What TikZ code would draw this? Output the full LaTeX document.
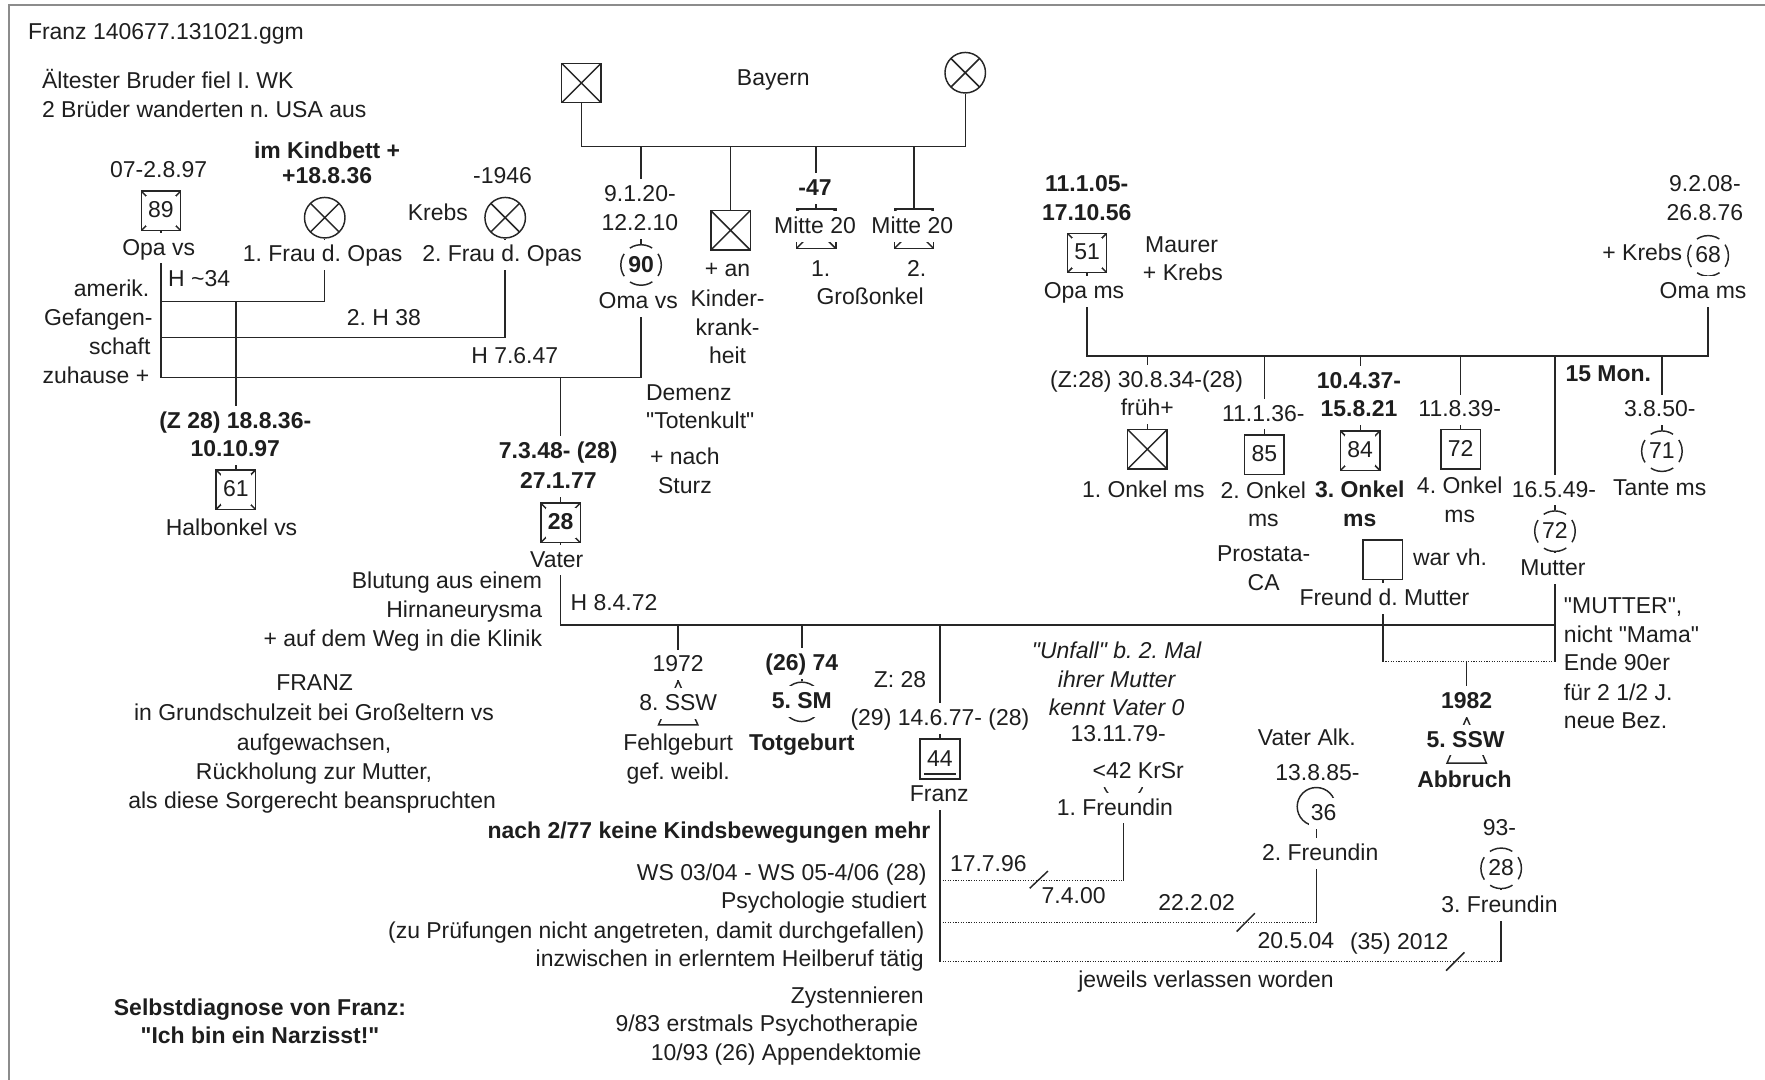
\documentclass[tikz,border=0pt]{standalone}
\usepackage{fontspec}
\setmainfont{Liberation Sans}
\usetikzlibrary{calc}
\pgfdeclarelayer{bg}
\pgfsetlayers{bg,main}
\definecolor{ln}{HTML}{262626}
\definecolor{txt}{HTML}{1E1E1E}
\definecolor{frm}{HTML}{8C8C8C}
\newcommand\fs{\fontsize{10.2pt}{12.9pt}\selectfont\frenchspacing}
\newcommand\qq{\textquotedbl}
\begin{document}
\begin{tikzpicture}[x=0.5pt,y=-0.5pt,
  lbl/.style={font=\fs, text=txt, inner xsep=1pt, inner ysep=0pt, text height=9.9pt, text depth=3.65pt},
  wl/.style={lbl, fill=white},
  bf/.style={font=\fs\bfseries},
  itl/.style={font=\fs\itshape},
  nm/.style={lbl, fill=white, minimum width=13pt},
  sym/.style={draw=ln, line width=0.65pt, fill=white, inner sep=0pt},
  sqr/.style={sym, rectangle, minimum size=17.5pt},
  crc/.style={sym, circle, minimum size=18pt},
  dsh/.style={dash pattern=on 10.5pt off 3.64pt, dash phase=5.25pt},
  dead/.style={path picture={\draw[line width=0.65pt, ln] (path picture bounding box.north west) -- (path picture bounding box.south east) (path picture bounding box.north east) -- (path picture bounding box.south west);}},
  con/.style={draw=ln, line width=0.65pt},
  dotl/.style={con, dash pattern=on 0.5pt off 0.65pt},
]
\useasboundingbox (0,0) rectangle (1568,959);

% header notes
\node[lbl, anchor=west] (title) at (22.5,29) {Franz 140677.131021.ggm};
\node[lbl, anchor=west] (hn1) at (35,72) {Ältester Bruder fiel I. WK};
\node[lbl, anchor=west] (hn2) at (35,98) {2 Brüder wanderten n. USA aus};

% great-grandparents
\node[sqr, dead] (ggf) at (516.5,73.7) {};
\node[crc, dead] (ggm) at (857.5,64.6) {};
\node[lbl] (bay) at (687,69.6) {Bayern};
\coordinate (gg) at (700,130.3);

\node[crc, dsh] (omavs) at (569.5,235.4) {};
\node[lbl, bf] (omavsn) at (omavs) {90};
\node[wl] (omavsd1) at (568.5,172.5) {9.1.20-};
\node[wl] (omavsd2) at (568.5,198.4) {12.2.10};
\node[wl] (omavsl) at (567,268) {Oma vs};

\node[sqr, dead] (kk) at (649,204.6) {};
\node[lbl] (kk1) at (646.4,239.8) {+ an};
\node[lbl] (kk2) at (646.4,265.6) {Kinder-};
\node[lbl] (kk3) at (646.4,291.7) {krank-};
\node[lbl] (kk4) at (646.4,316.9) {heit};

\node[sqr, dead] (go1) at (725,203.3) {};
\node[wl] (go1l) at (724,201.4) {Mitte 20};
\node[wl, bf] (go1d) at (724,167.3) {-47};
\node[sqr, dead] (go2) at (812,203.3) {};
\node[wl] (go2l) at (810.5,201.4) {Mitte 20};
\node[lbl] (go1n) at (729,239.8) {1.};
\node[lbl] (go2n) at (814.3,239.8) {2.};
\node[lbl] (gol) at (773,264.4) {Großonkel};

% vs grandparents
\node[sqr, dead] (opavs) at (143,187.3) {};
\node[nm] (opavsn) at (opavs) {89};
\node[lbl] (opavsd) at (141,151) {07-2.8.97};
\node[wl] (opavsl) at (141,220.5) {Opa vs};
\node[crc, dead] (fr1) at (288.5,193.4) {};
\node[wl] (fr1l) at (286.6,226.5) {1. Frau d. Opas};
\node[lbl, bf] (fr1a) at (290.6,134.7) {im Kindbett +};
\node[lbl, bf] (fr1b) at (290.6,157) {+18.8.36};
\node[crc, dead] (fr2) at (448.8,193.4) {};
\node[wl] (fr2l) at (446,226.5) {2. Frau d. Opas};
\node[lbl] (fr2a) at (389,189.5) {Krebs};
\node[lbl] (fr2b) at (446.4,157) {-1946};
\coordinate (m1) at (216,268);
\coordinate (m2) at (300,299.7);
\coordinate (m3) at (350,335.5);

\node[lbl, anchor=east] (ag1) at (135,256.9) {amerik.};
\node[lbl, anchor=east] (ag2) at (138,282.8) {Gefangen-};
\node[lbl, anchor=east] (ag3) at (136,308.9) {schaft};
\node[lbl, anchor=east] (ag4) at (135,334.6) {zuhause +};
\node[lbl, anchor=west] (h1) at (147,248.7) {H \textasciitilde34};
\node[lbl] (h2) at (341,282.8) {2. H 38};
\node[lbl] (h3) at (457.3,316.9) {H 7.6.47};

\node[lbl, anchor=west] (de1) at (571.6,349.4) {Demenz};
\node[lbl, anchor=west] (de2) at (571.6,374.6) {\qq Totenkult\qq};
\node[lbl] (de3) at (608.5,406.3) {+ nach};
\node[lbl] (de4) at (608.5,432.3) {Sturz};

% Halbonkel
\node[sqr, dead] (hok) at (209.5,435) {};
\node[nm] (hokn) at (hok) {61};
\node[wl, bf] (hokd1) at (209,374.6) {(Z 28) 18.8.36-};
\node[wl, bf] (hokd2) at (209,399.7) {10.10.97};
\node[lbl] (hokl) at (205.7,469.3) {Halbonkel vs};

% Vater
\node[sqr, dead] (vat) at (498,464.5) {};
\node[nm, bf] (vatn) at (vat) {28};
\node[wl, bf] (vatd1) at (496,401.2) {7.3.48- (28)};
\node[wl, bf] (vatd2) at (496,427.9) {27.1.77};
\node[wl] (vatl) at (494.6,497.5) {Vater};
\node[lbl, anchor=east] (bl1) at (484,516.7) {Blutung aus einem};
\node[lbl, anchor=east] (bl2) at (484,542.5) {Hirnaneurysma};
\node[lbl, anchor=east] (bl3) at (484,568.5) {+ auf dem Weg in die Klinik};
\node[lbl, anchor=west] (h4) at (504.5,536) {H 8.4.72};
\coordinate (m4) at (900,555.2);

% FRANZ notes
\node[lbl] (fn1) at (279.5,607.6) {FRANZ};
\node[lbl] (fn2) at (279,633.7) {in Grundschulzeit bei Großeltern vs};
\node[lbl] (fn3) at (279,660.3) {aufgewachsen,};
\node[lbl] (fn4) at (279,686) {Rückholung zur Mutter,};
\node[lbl] (fn5) at (277.3,712.2) {als diese Sorgerecht beanspruchten};
\node[lbl, bf] (sd1) at (231,895.7) {Selbstdiagnose von Franz:};
\node[lbl, bf] (sd2) at (231,920.9) {\qq Ich bin ein Narzisst!\qq};
\node[lbl, bf, anchor=east] (kb) at (828.9,738.8) {nach 2/77 keine Kindsbewegungen mehr};
\node[lbl, anchor=east] (ws1) at (825.6,775.8) {WS 03/04 - WS 05-4/06 (28)};
\node[lbl, anchor=east] (ws2) at (825.6,801) {Psychologie studiert};
\node[lbl, anchor=east] (ws3) at (823.5,827.6) {(zu Prüfungen nicht angetreten, damit durchgefallen)};
\node[lbl, anchor=east] (ws4) at (823,852.8) {inzwischen in erlerntem Heilberuf tätig};
\node[lbl, anchor=east] (zy1) at (823,885.4) {Zystennieren};
\node[lbl, anchor=east] (zy2) at (818,910.5) {9/83 erstmals Psychotherapie};
\node[lbl, anchor=east] (zy3) at (821,936.3) {10/93 (26) Appendektomie};

% ms grandparents
\node[sqr, dead] (opams) at (965.7,224.7) {};
\node[nm] (opamsn) at (opams) {51};
\node[lbl, bf] (opamsd1) at (965.4,164.3) {11.1.05-};
\node[lbl, bf] (opamsd2) at (965.4,189.5) {17.10.56};
\node[wl] (opamsl) at (963,259) {Opa ms};
\node[lbl, anchor=west] (mau1) at (1015,218.5) {Maurer};
\node[lbl, anchor=west] (mau2) at (1013,242.8) {+ Krebs};
\node[crc, dsh] (omams) at (1517.5,227.3) {};
\node[lbl] (omamsn) at (omams) {68};
\node[lbl] (omamsd1) at (1514.6,164.3) {9.2.08-};
\node[lbl] (omamsd2) at (1514.6,189.5) {26.8.76};
\node[lbl] (omamsk) at (1459,225) {+ Krebs};
\node[wl] (omamsl) at (1513,259) {Oma ms};
\coordinate (m6) at (1200,316.3);
\node[lbl, bf] (mon) at (1428.8,333.1) {15 Mon.};

\node[sqr, dead] (on1) at (1019.3,399.1) {};
\node[wl] (on1d1) at (1018.6,337.6) {(Z:28) 30.8.34-(28)};
\node[wl] (on1d2) at (1019.2,362.7) {früh+};
\node[lbl] (on1l) at (1015.7,435.3) {1. Onkel ms};

\node[sqr] (on2) at (1123.2,403.8) {};
\node[lbl] (on2n) at (on2) {85};
\node[wl] (on2d) at (1122.3,367.8) {11.1.36-};
\node[lbl] (on2l1) at (1122.3,436.8) {2. Onkel};
\node[lbl] (on2l2) at (1122.3,461.9) {ms};
\node[lbl] (on2p1) at (1122.6,493) {Prostata-};
\node[lbl] (on2p2) at (1122.6,518.2) {CA};

\node[sqr, dead] (on3) at (1208.4,400.4) {};
\node[nm] (on3n) at (on3) {84};
\node[wl, bf] (on3d1) at (1207.3,339) {10.4.37-};
\node[wl, bf] (on3d2) at (1207.3,364.2) {15.8.21};
\node[lbl, bf] (on3l1) at (1208,435.3) {3. Onkel};
\node[lbl, bf] (on3l2) at (1208,461.9) {ms};

\node[sqr] (on4) at (1297.5,399.1) {};
\node[lbl] (on4n) at (on4) {72};
\node[wl] (on4d) at (1296.8,364.2) {11.8.39-};
\node[lbl] (on4l1) at (1296.8,432.3) {4. Onkel};
\node[lbl] (on4l2) at (1296.8,457.5) {ms};

\node[crc, dsh] (mut) at (1381.4,471.9) {};
\node[lbl] (mutn) at (mut) {72};
\node[wl] (mutd) at (1380.5,435.3) {16.5.49-};
\node[wl] (mutl) at (1379.6,504.9) {Mutter};

\node[crc, dsh] (tan) at (1476.4,400.8) {};
\node[lbl] (tann) at (tan) {71};
\node[wl] (tand) at (1474.5,364.2) {3.8.50-};
\node[lbl] (tanl) at (1474.5,433.8) {Tante ms};

\node[sqr] (frd) at (1228.5,497.2) {};
\node[lbl, anchor=west] (frdv) at (1253,496) {war vh.};
\node[wl] (frdl) at (1229.9,531.5) {Freund d. Mutter};
\coordinate (m5) at (1300,587.8);

\node[lbl, anchor=west] (mm1) at (1387,538.9) {\qq MUTTER\qq ,};
\node[lbl, anchor=west] (mm2) at (1387,564.1) {nicht \qq Mama\qq};
\node[lbl, anchor=west] (mm3) at (1387,589.3) {Ende 90er};
\node[lbl, anchor=west] (mm4) at (1387,615.9) {für 2 1/2 J.};
\node[lbl, anchor=west] (mm5) at (1387,641.1) {neue Bez.};

% Abbruch
\coordinate (ab) at (1303,637.5);
\draw[con, fill=white] (ab) -- ++(17.5,40.5) -- ++(-35,0) -- cycle;
\node[wl, bf] (abd) at (1303,623.3) {1982};
\node[wl, bf] (abs) at (1302,657.4) {5. SSW};
\node[lbl, bf] (abl) at (1301,692.9) {Abbruch};

% children of Vater + Mutter
\coordinate (fg) at (602.5,605);
\draw[con, fill=white] (fg) -- ++(17.5,39) -- ++(-35,0) -- cycle;
\node[wl] (fgd) at (602.5,590.7) {1972};
\node[wl] (fgs) at (602.5,624.8) {8. SSW};
\node[lbl] (fgl1) at (602.5,660.3) {Fehlgeburt};
\node[lbl] (fgl2) at (602.5,686) {gef. weibl.};

\node[crc, minimum size=17.5pt] (tg) at (712.3,623.5) {};
\node[wl, bf] (tgd) at (712.3,589.3) {(26) 74};
\node[wl, bf] (tgs) at (712.3,623.3) {5. SM};
\node[lbl, bf] (tgl) at (712.3,660.3) {Totgeburt};

\node[sqr, minimum size=17.75pt] (frz) at (835,674.4) {};
\node[lbl] (frzn) at (frz) {44};
\draw[con] ($(frz.south west)+(4.5,-5)$) -- ($(frz.south east)+(-4.5,-5)$);
\node[wl] (frzd) at (835,638.1) {(29) 14.6.77- (28)};
\node[lbl] (frzz) at (799.5,604.1) {Z: 28};
\node[wl] (frzl) at (834.4,706.2) {Franz};
\coordinate (fz1) at (835,782.3);
\coordinate (fz2) at (835,819.6);
\coordinate (fz3) at (835,854.3);

% Freundinnen
\node[lbl, itl] (un1) at (992,578.9) {\qq Unfall\qq\ b. 2. Mal};
\node[lbl, itl] (un2) at (992,604.1) {ihrer Mutter};
\node[lbl, itl] (un3) at (992,629.2) {kennt Vater 0};
\node[crc] (f1) at (998,693) {};
\node[wl] (f1d) at (993.4,652.9) {13.11.79-};
\node[wl] (f1k) at (1011.2,685.5) {<42 KrSr};
\node[wl] (f1l) at (990.5,718) {1. Freundin};

\node[crc, minimum size=17pt] (f2) at (1169.4,716.6) {};
\node[lbl, fill=white] (f2n) at (1175.8,722.5) {36};
\node[lbl] (f2d) at (1170.4,687) {13.8.85-};
\node[wl] (f2l) at (1172.9,758) {2. Freundin};
\node[lbl] (f2v) at (1161,655.9) {Vater Alk.};

\node[crc, dsh] (f3) at (1333.6,771.4) {};
\node[lbl] (f3n) at (f3) {28};
\node[wl] (f3d) at (1332.1,735.8) {93-};
\node[wl] (f3l) at (1332.1,804.6) {3. Freundin};

\node[lbl] (dt1) at (878,768.4) {17.7.96};
\node[lbl] (dt2) at (953.8,796.5) {7.4.00};
\node[lbl] (dt3) at (1063,802.5) {22.2.02};
\node[lbl] (dt4) at (1151.3,836.5) {20.5.04};
\node[lbl] (dt5) at (1243,837.4) {(35) 2012};
\node[lbl] (jv) at (1071.4,870.6) {jeweils verlassen worden};

\begin{pgfonlayer}{bg}
\draw[frm, line width=0.9pt] (8,959) -- (8,4.5) -- (1568,4.5);
% great-grandparents
\draw[con] (ggf.south) |- (gg) -| (ggm.south);
\draw[con] (gg -| omavs) -- (omavs.north);
\draw[con] (gg -| kk) -- (kk.north);
\draw[con] (gg -| go1) -- (go1.north);
\draw[con] (gg -| go2) -- (go2.north);
% vs grandparents
\draw[con] (opavs.south) -- (opavs.south |- m3) -- (m3) -| (omavs.south);
\draw[con] (opavs.south |- m1) -| (fr1.south);
\draw[con] (opavs.south |- m2) -| (fr2.south);
\draw[con] (m1 -| hok) -- (hok.north);
\draw[con] (m3 -| vat) -- (vat.north);
% parents
\draw[con] (vat.south) |- (m4) -- (m4 -| mut);
\draw[con] (mut.south) -- (mut.south |- m5);
\draw[con] (frd.south) -- (frd.south |- m5);
\draw[dotl] (m5 -| frd) -- (m5 -| mut);
\draw[con] (m5 -| ab) -- (ab);
% ms grandparents
\draw[con] (opams.south) |- (m6) -| (omams.south);
\draw[con] (m6 -| on1) -- (on1.north);
\draw[con] (m6 -| on2) -- (on2.north);
\draw[con] (m6 -| on3) -- (on3.north);
\draw[con] (m6 -| on4) -- (on4.north);
\draw[con] (m6 -| mut) -- (mut.north);
\draw[con] (m6 -| tan) -- (tan.north);
% siblings of Franz
\draw[con] (m4 -| fg) -- (fg);
\draw[con] (m4 -| tg) -- (tg.north);
\draw[con] (m4 -| frz) -- (frz.north);
\draw[con] (frz.south) -- (fz3);
% partners of Franz
\draw[con] (f1.south) -- (f1.south |- fz1);
\draw[dotl] (fz1) -- (fz1 -| f1);
\draw[con] (f2.south) -- (f2.south |- fz2);
\draw[dotl] (fz2) -- (fz2 -| f2);
\draw[con] (f3.south) -- (f3.south |- fz3);
\draw[dotl] (fz3) -- (fz3 -| f3);
\draw[con] ($(fz1)+(79.8,6.8)$) -- ($(fz1)+(96,-8.5)$);
\draw[con] ($(fz2)+(263.6,8)$) -- ($(fz2)+(279.8,-8.3)$);
\draw[con] ($(fz3)+(449.7,8)$) -- ($(fz3)+(466,-8.3)$);
\end{pgfonlayer}
\end{tikzpicture}
\end{document}
